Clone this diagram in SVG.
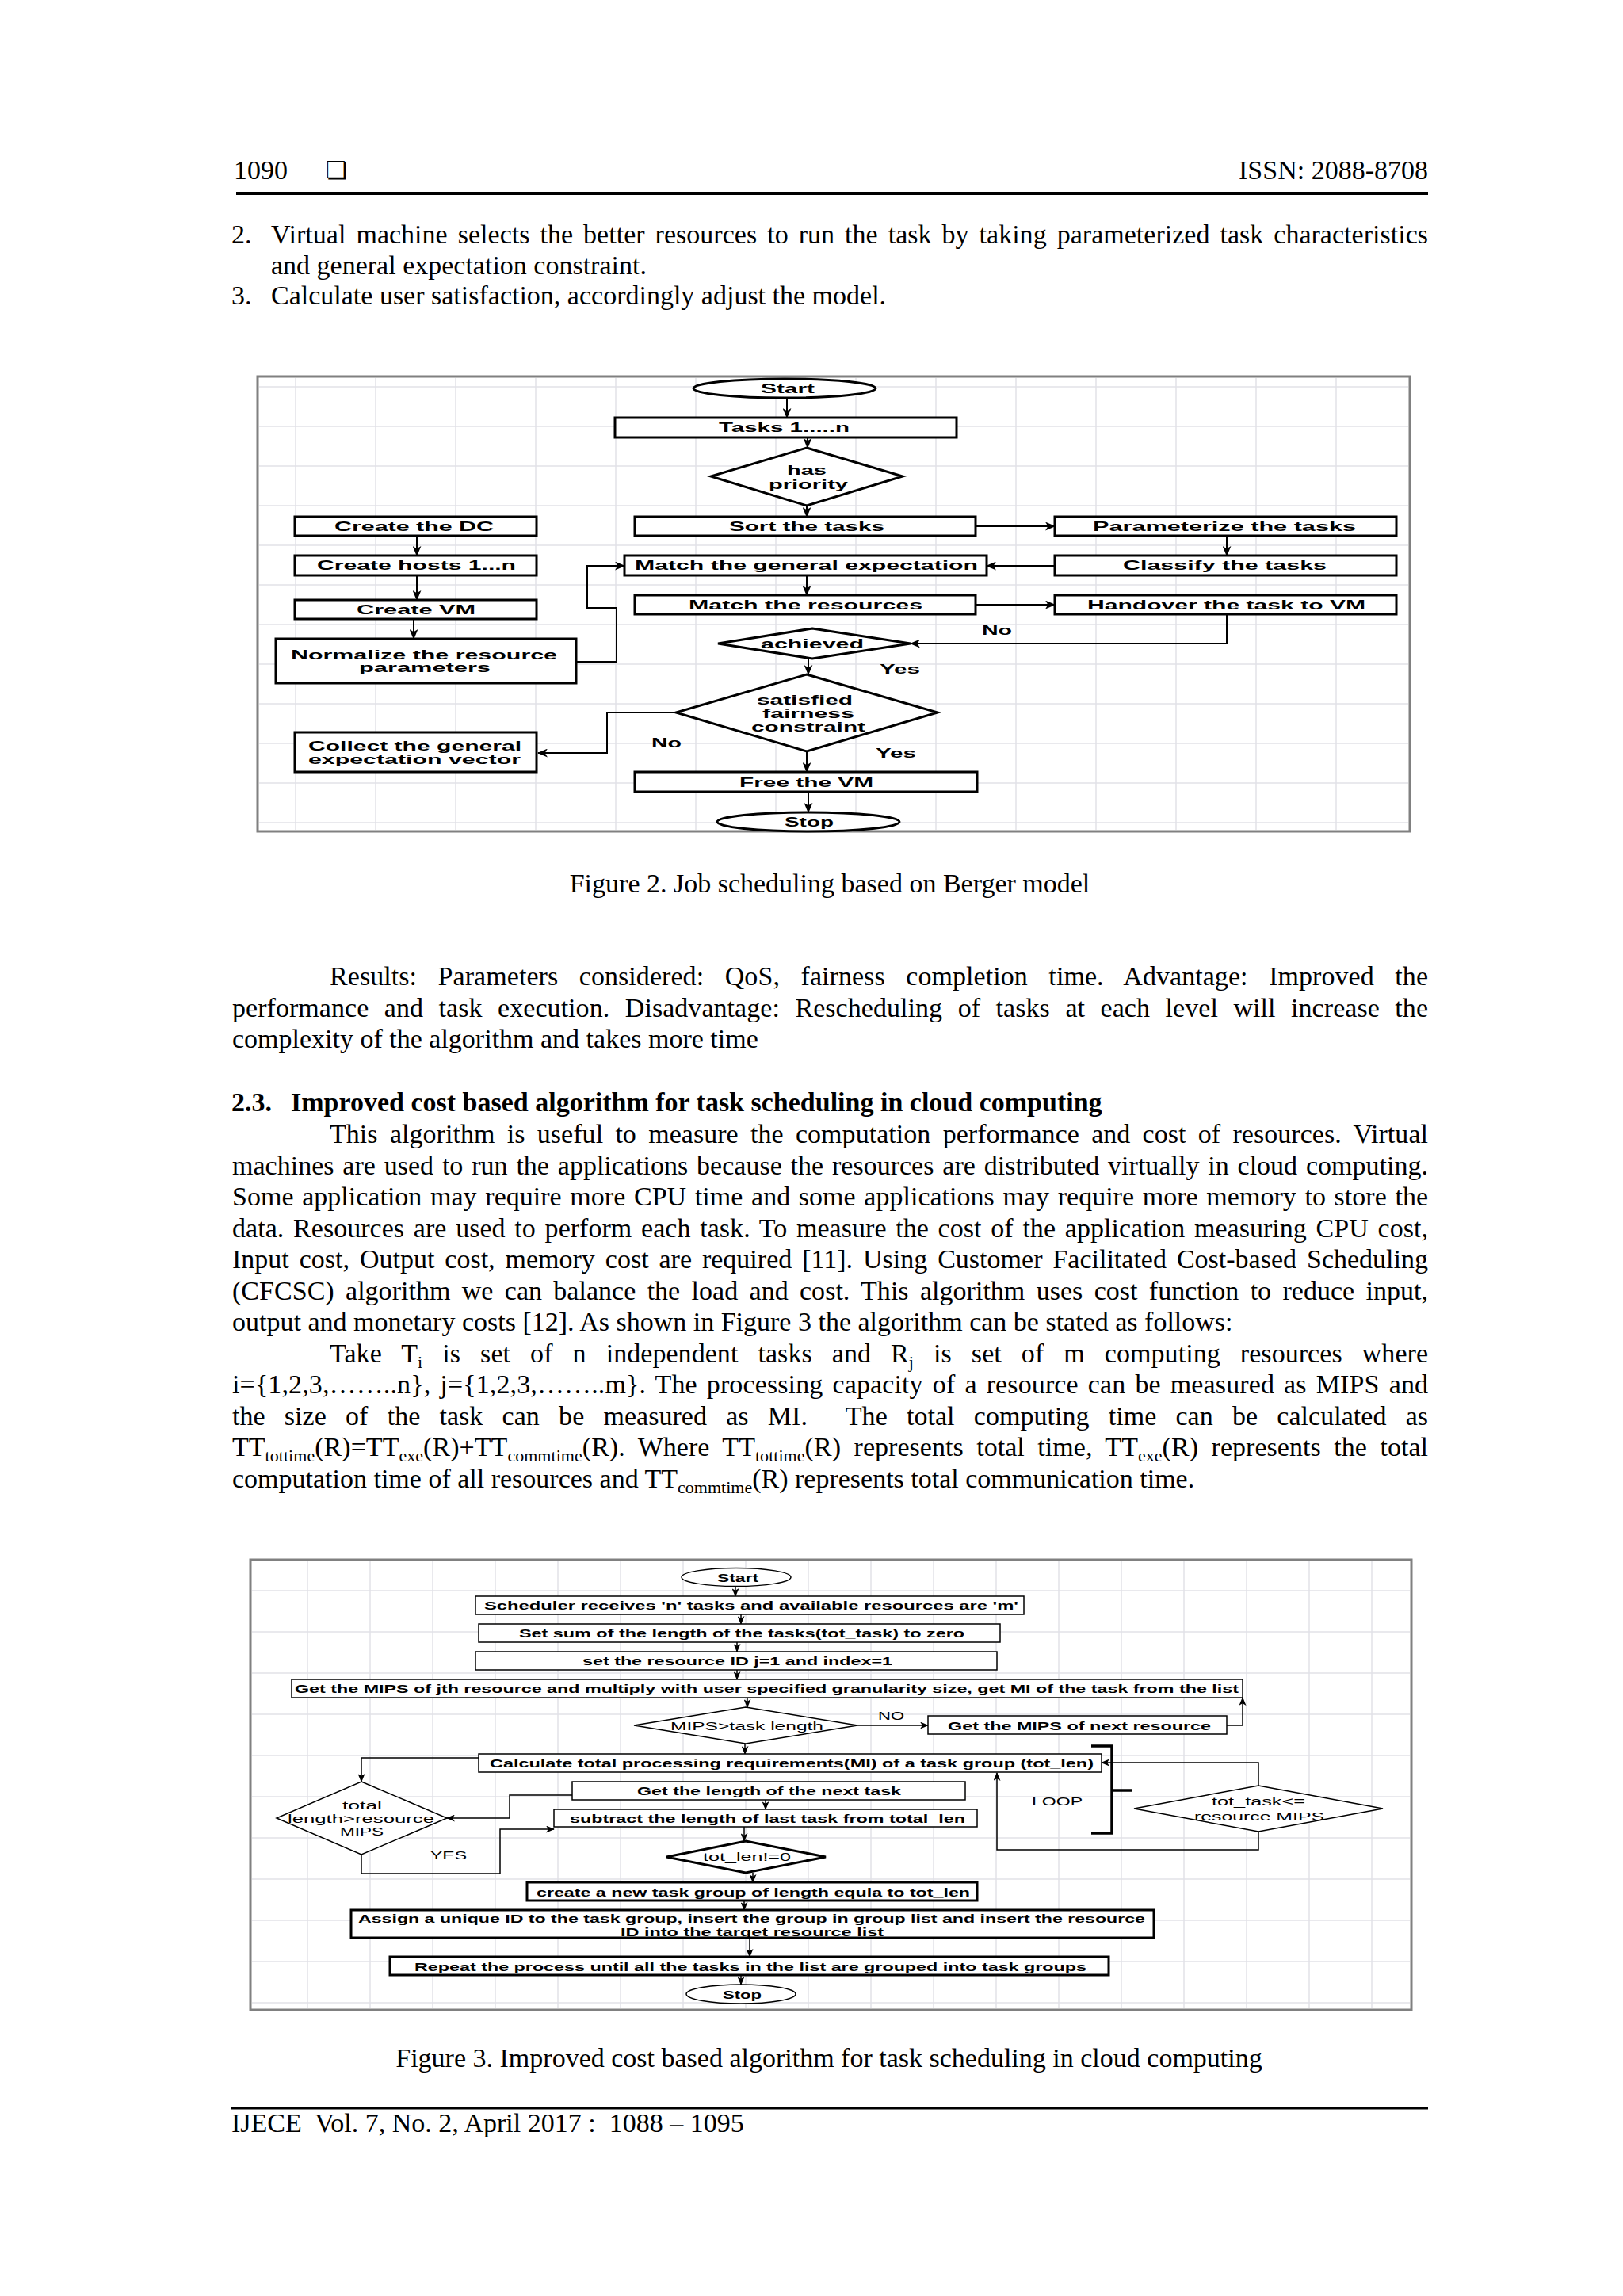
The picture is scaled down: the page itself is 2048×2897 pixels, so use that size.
<svg xmlns="http://www.w3.org/2000/svg" width="2048" height="2897" viewBox="0 0 2048 2897">
<defs>
<style>
.body{font-family:"Liberation Serif","Times New Roman",serif;font-size:34px;fill:#000}
.bold{font-weight:bold}
.f2{font-family:"Liberation Sans",Arial,sans-serif;font-weight:bold;font-size:16px;fill:#000}
.f3{font-family:"Liberation Sans",Arial,sans-serif;font-weight:bold;font-size:15px;fill:#000}
.f3r{font-family:"Liberation Sans",Arial,sans-serif;font-size:15px;fill:#000}
.b2{fill:#fff;stroke:#000;stroke-width:3}
.b3{fill:#fff;stroke:#000;stroke-width:1.5}
.b3t{fill:#fff;stroke:#000;stroke-width:3}
.c2{fill:none;stroke:#000;stroke-width:2;marker-end:url(#a2)}
.c3{fill:none;stroke:#000;stroke-width:1.5;marker-end:url(#a3)}
.frame{fill:#fff;stroke:#808080;stroke-width:3}
.grid{fill:none;stroke:#e2e2e8;stroke-width:1.5}
.sub{font-size:22px}
</style>
<marker id="a2" viewBox="0 0 12 10" refX="11" refY="5" markerWidth="13" markerHeight="11" markerUnits="userSpaceOnUse" orient="auto"><path d="M0,0 L12,5 L0,10 L3,5 Z" fill="#000"/></marker>
<marker id="a3" viewBox="0 0 12 10" refX="11" refY="5" markerWidth="11" markerHeight="9" markerUnits="userSpaceOnUse" orient="auto"><path d="M0,0 L12,5 L0,10 L3,5 Z" fill="#000"/></marker>
</defs>
<rect width="2048" height="2897" fill="#fff"/>

<g id="page-header">
<text x="295" y="226" class="body">1090</text>
<text x="411" y="225" font-family="DejaVu Sans" font-weight="bold" font-size="30">❏</text>
<text x="1802" y="226" class="body" text-anchor="end">ISSN: 2088-8708</text>
<line x1="298" y1="244" x2="1802" y2="244" stroke="#000" stroke-width="4"/>
</g>

<g id="list-text">
<text x="292" y="307" class="body">2.</text>
<text x="342" y="307" class="body" word-spacing="4.5" textLength="1460" lengthAdjust="spacing">Virtual machine selects the better resources to run the task by taking parameterized task characteristics</text>
<text x="342" y="346" class="body">and general expectation constraint.</text>
<text x="292" y="384" class="body">3.</text>
<text x="342" y="384" class="body">Calculate user satisfaction, accordingly adjust the model.</text>
</g>

<!-- Figure 2 -->
<g id="figure2">
<rect class="frame" x="325" y="475" width="1454" height="574"/>
<path class="grid" d="M373,477V1047M474,477V1047M575,477V1047M676,477V1047M777,477V1047M878,477V1047M979,477V1047M1080,477V1047M1181,477V1047M1282,477V1047M1383,477V1047M1484,477V1047M1585,477V1047M1686,477V1047M327,488H1777M327,538H1777M327,588H1777M327,638H1777M327,688H1777M327,738H1777M327,788H1777M327,838H1777M327,888H1777M327,938H1777M327,988H1777M327,1038H1777"/>

<g id="f2-connectors">
<path class="c2" d="M993,502V527"/>
<path class="c2" d="M1019,552V565"/>
<path class="c2" d="M1018,638V652"/>
<path class="c2" d="M1231,664H1331"/>
<path class="c2" d="M1548,676V701"/>
<path class="c2" d="M1331,714H1245"/>
<path class="c2" d="M1018,726V751"/>
<path class="c2" d="M1231,763H1331"/>
<path class="c2" d="M1548,775V812H1149"/>
<path class="c2" d="M1020,831V851"/>
<path class="c2" d="M1018,948V974"/>
<path class="c2" d="M1020,999V1025"/>
<path class="c2" d="M853,899H766V950H679"/>
<path class="c2" d="M526,676V701"/>
<path class="c2" d="M526,726V757"/>
<path class="c2" d="M522,781V806"/>
<path class="c2" d="M727,835H778V767H741V714H788"/>
</g>

<g id="f2-start"><ellipse class="b2" cx="990" cy="490" rx="115" ry="12"/><text class="f2" x="960" y="496" textLength="68" lengthAdjust="spacingAndGlyphs">Start</text></g>
<g id="f2-tasks"><rect class="b2" x="776" y="527" width="431" height="25"/><text class="f2" x="907" y="545" textLength="165" lengthAdjust="spacingAndGlyphs">Tasks 1.....n</text></g>
<g id="f2-priority"><polygon class="b2" points="1018,565 1139,601 1018,638 897,601"/><text class="f2" x="993" y="599" textLength="50" lengthAdjust="spacingAndGlyphs">has</text><text class="f2" x="970" y="617" textLength="100" lengthAdjust="spacingAndGlyphs">priority</text></g>
<g id="f2-dc"><rect class="b2" x="372" y="652" width="305" height="24"/><text class="f2" x="422" y="670" textLength="201" lengthAdjust="spacingAndGlyphs">Create the DC</text></g>
<g id="f2-hosts"><rect class="b2" x="372" y="701" width="305" height="25"/><text class="f2" x="400" y="719" textLength="251" lengthAdjust="spacingAndGlyphs">Create hosts 1...n</text></g>
<g id="f2-vm"><rect class="b2" x="372" y="757" width="305" height="24"/><text class="f2" x="450" y="775" textLength="150" lengthAdjust="spacingAndGlyphs">Create VM</text></g>
<g id="f2-normalize"><rect class="b2" x="348" y="806" width="379" height="56"/><text class="f2" x="367" y="832" textLength="336" lengthAdjust="spacingAndGlyphs">Normalize the resource</text><text class="f2" x="453" y="848" textLength="166" lengthAdjust="spacingAndGlyphs">parameters</text></g>
<g id="f2-sort"><rect class="b2" x="801" y="652" width="430" height="24"/><text class="f2" x="920" y="670" textLength="196" lengthAdjust="spacingAndGlyphs">Sort the tasks</text></g>
<g id="f2-param"><rect class="b2" x="1331" y="652" width="431" height="24"/><text class="f2" x="1379" y="670" textLength="332" lengthAdjust="spacingAndGlyphs">Parameterize the tasks</text></g>
<g id="f2-classify"><rect class="b2" x="1331" y="701" width="431" height="25"/><text class="f2" x="1417" y="719" textLength="257" lengthAdjust="spacingAndGlyphs">Classify the tasks</text></g>
<g id="f2-matchgen"><rect class="b2" x="788" y="701" width="457" height="25"/><text class="f2" x="801" y="719" textLength="433" lengthAdjust="spacingAndGlyphs">Match the general expectation</text></g>
<g id="f2-matchres"><rect class="b2" x="801" y="751" width="430" height="24"/><text class="f2" x="869" y="769" textLength="295" lengthAdjust="spacingAndGlyphs">Match the resources</text></g>
<g id="f2-handover"><rect class="b2" x="1331" y="751" width="431" height="24"/><text class="f2" x="1372" y="769" textLength="351" lengthAdjust="spacingAndGlyphs">Handover the task to VM</text></g>
<g id="f2-achieved"><polygon class="b2" points="1025,793 1149,812 1025,831 906,812"/><text class="f2" x="960" y="818" textLength="130" lengthAdjust="spacingAndGlyphs">achieved</text></g>
<g id="f2-satisfied"><polygon class="b2" points="1018,851 1183,899 1018,948 853,899"/><text class="f2" x="955" y="889" textLength="121" lengthAdjust="spacingAndGlyphs">satisfied</text><text class="f2" x="962" y="906" textLength="116" lengthAdjust="spacingAndGlyphs">fairness</text><text class="f2" x="948" y="923" textLength="144" lengthAdjust="spacingAndGlyphs">constraint</text></g>
<g id="f2-collect"><rect class="b2" x="372" y="924" width="305" height="50"/><text class="f2" x="389" y="947" textLength="269" lengthAdjust="spacingAndGlyphs">Collect the general</text><text class="f2" x="389" y="964" textLength="268" lengthAdjust="spacingAndGlyphs">expectation vector</text></g>
<g id="f2-free"><rect class="b2" x="801" y="974" width="432" height="25"/><text class="f2" x="933" y="993" textLength="169" lengthAdjust="spacingAndGlyphs">Free the VM</text></g>
<g id="f2-stop"><ellipse class="b2" cx="1020" cy="1037" rx="115" ry="12"/><text class="f2" x="990" y="1043" textLength="62" lengthAdjust="spacingAndGlyphs">Stop</text></g>
<g id="f2-labels">
<text class="f2" x="1239" y="801" textLength="38" lengthAdjust="spacingAndGlyphs">No</text>
<text class="f2" x="1110" y="850" textLength="51" lengthAdjust="spacingAndGlyphs">Yes</text>
<text class="f2" x="822" y="943" textLength="38" lengthAdjust="spacingAndGlyphs">No</text>
<text class="f2" x="1105" y="956" textLength="51" lengthAdjust="spacingAndGlyphs">Yes</text>
</g>
</g>

<text x="1047" y="1126" class="body" text-anchor="middle">Figure 2. Job scheduling based on Berger model</text>

<g id="body-text">
<text x="416" y="1243" class="body" word-spacing="18" textLength="1386" lengthAdjust="spacing">Results: Parameters considered: QoS, fairness completion time. Advantage: Improved the</text>
<text x="293" y="1283" class="body" word-spacing="11" textLength="1509" lengthAdjust="spacing">performance and task execution. Disadvantage: Rescheduling of tasks at each level will increase the</text>
<text x="293" y="1322" class="body">complexity of the algorithm and takes more time</text>

<text x="292" y="1402" class="body bold">2.3.</text>
<text x="367" y="1402" class="body bold">Improved cost based algorithm for task scheduling in cloud computing</text>

<text x="416" y="1442" class="body" word-spacing="6.7" textLength="1386" lengthAdjust="spacing">This algorithm is useful to measure the computation performance and cost of resources. Virtual</text>
<text x="293" y="1482" class="body" word-spacing="2.3" textLength="1509" lengthAdjust="spacing">machines are used to run the applications because the resources are distributed virtually in cloud computing.</text>
<text x="293" y="1521" class="body" word-spacing="2.2" textLength="1509" lengthAdjust="spacing">Some application may require more CPU time and some applications may require more memory to store the</text>
<text x="293" y="1561" class="body" word-spacing="3.2" textLength="1509" lengthAdjust="spacing">data. Resources are used to perform each task. To measure the cost of the application measuring CPU cost,</text>
<text x="293" y="1600" class="body" word-spacing="4.4" textLength="1509" lengthAdjust="spacing">Input cost, Output cost, memory cost are required [11]. Using Customer Facilitated Cost-based Scheduling</text>
<text x="293" y="1640" class="body" word-spacing="5.8" textLength="1509" lengthAdjust="spacing">(CFCSC) algorithm we can balance the load and cost. This algorithm uses cost function to reduce input,</text>
<text x="293" y="1679" class="body">output and monetary costs [12]. As shown in Figure 3 the algorithm can be stated as follows:</text>

<text x="416" y="1719" class="body" word-spacing="16.5" textLength="1386" lengthAdjust="spacing">Take T<tspan class="sub" dy="7">i</tspan><tspan dy="-7"> is set of n independent tasks and R</tspan><tspan class="sub" dy="7">j</tspan><tspan dy="-7"> is set of m computing resources where</tspan></text>
<text x="293" y="1758" class="body" word-spacing="3.4" textLength="1509" lengthAdjust="spacing">i={1,2,3,……..n}, j={1,2,3,……..m}. The processing capacity of a resource can be measured as MIPS and</text>
<text x="293" y="1798" class="body" word-spacing="15.7" textLength="1509" lengthAdjust="spacing" xml:space="preserve">the size of the task can be measured as MI.  The total computing time can be calculated as</text>
<text x="293" y="1837" class="body" word-spacing="8" textLength="1509" lengthAdjust="spacing">TT<tspan class="sub" dy="7">tottime</tspan><tspan dy="-7">(R)=TT</tspan><tspan class="sub" dy="7">exe</tspan><tspan dy="-7">(R)+TT</tspan><tspan class="sub" dy="7">commtime</tspan><tspan dy="-7">(R). Where TT</tspan><tspan class="sub" dy="7">tottime</tspan><tspan dy="-7">(R) represents total time, TT</tspan><tspan class="sub" dy="7">exe</tspan><tspan dy="-7">(R) represents the total</tspan></text>
<text x="293" y="1877" class="body">computation time of all resources and TT<tspan class="sub" dy="7">commtime</tspan><tspan dy="-7">(R) represents total communication time.</tspan></text>
</g>

<!-- Figure 3 -->
<g id="figure3">
<rect class="frame" x="316" y="1968" width="1465" height="568"/>
<path class="grid" d="M388,1970V2534M467,1970V2534M546,1970V2534M625,1970V2534M704,1970V2534M783,1970V2534M862,1970V2534M941,1970V2534M1020,1970V2534M1099,1970V2534M1178,1970V2534M1257,1970V2534M1336,1970V2534M1415,1970V2534M1494,1970V2534M1573,1970V2534M1652,1970V2534M1731,1970V2534M318,2007H1779M318,2059H1779M318,2111H1779M318,2163H1779M318,2215H1779M318,2267H1779M318,2319H1779M318,2371H1779M318,2423H1779M318,2475H1779M318,2527H1779"/>

<g id="f3-connectors">
<path class="c3" d="M928,2002V2014"/>
<path class="c3" d="M935,2037V2049"/>
<path class="c3" d="M930,2072V2084"/>
<path class="c3" d="M930,2107V2119"/>
<path class="c3" d="M943,2142V2154"/>
<path class="c3" d="M1082,2177H1171"/>
<path class="c3" d="M1548,2177H1568V2142"/>
<path class="c3" d="M940,2200V2213"/>
<path class="c3" d="M604,2218H456V2248"/>
<path class="c3" d="M722,2265H643V2294H564"/>
<path class="c3" d="M966,2271V2283"/>
<path class="c3" d="M456,2340V2364H631V2308H699"/>
<path class="c3" d="M939,2305V2323"/>
<path class="c3" d="M950,2363V2375"/>
<path class="c3" d="M939,2398V2410"/>
<path class="c3" d="M946,2445V2469"/>
<path class="c3" d="M935,2492V2504"/>
<path class="c3" d="M1588,2253V2224H1390"/>
<path class="c3" d="M1588,2311V2334H1258V2237"/>
<path fill="none" stroke="#000" stroke-width="3.5" d="M1377,2203H1403V2313H1377M1403,2259H1428"/>
</g>

<g id="f3-start"><ellipse class="b3" cx="929" cy="1990" rx="69" ry="11.5"/><text class="f3" x="905" y="1996" textLength="52" lengthAdjust="spacingAndGlyphs">Start</text></g>
<g id="f3-scheduler"><rect class="b3" x="600" y="2014" width="692" height="23"/><text class="f3" x="611" y="2031" textLength="674" lengthAdjust="spacingAndGlyphs">Scheduler receives 'n' tasks and available resources are 'm'</text></g>
<g id="f3-setsum"><rect class="b3" x="604" y="2049" width="658" height="23"/><text class="f3" x="655" y="2066" textLength="562" lengthAdjust="spacingAndGlyphs">Set sum of the length of the tasks(tot_task) to zero</text></g>
<g id="f3-setres"><rect class="b3" x="600" y="2084" width="658" height="23"/><text class="f3" x="735" y="2101" textLength="391" lengthAdjust="spacingAndGlyphs">set the resource ID j=1 and index=1</text></g>
<g id="f3-getmips"><rect class="b3" x="368" y="2119" width="1200" height="23"/><text class="f3" x="372" y="2136" textLength="1191" lengthAdjust="spacingAndGlyphs">Get the MIPS of jth resource and multiply with user specified granularity size, get MI of the task from the list</text></g>
<g id="f3-mipsdec"><polygon class="b3" points="941,2154 1082,2177 941,2200 800,2177"/><text class="f3r" x="846" y="2183" textLength="193" lengthAdjust="spacingAndGlyphs">MIPS&gt;task length</text></g>
<g id="f3-nextres"><rect class="b3" x="1171" y="2165" width="377" height="23"/><text class="f3" x="1196" y="2183" textLength="332" lengthAdjust="spacingAndGlyphs">Get the MIPS of next resource</text></g>
<g id="f3-calc"><rect class="b3" x="604" y="2213" width="786" height="23"/><text class="f3" x="618" y="2230" textLength="762" lengthAdjust="spacingAndGlyphs">Calculate total processing requirements(MI) of a task group (tot_len)</text></g>
<g id="f3-getlen"><rect class="b3" x="722" y="2248" width="496" height="23"/><text class="f3" x="804" y="2265" textLength="333" lengthAdjust="spacingAndGlyphs">Get the length of the next task</text></g>
<g id="f3-totaldec"><polygon class="b3" points="456,2248 564,2294 456,2340 349,2294"/><text class="f3r" x="432" y="2283" textLength="50" lengthAdjust="spacingAndGlyphs">total</text><text class="f3r" x="363" y="2300" textLength="185" lengthAdjust="spacingAndGlyphs">length&gt;resource</text><text class="f3r" x="429" y="2316" textLength="55" lengthAdjust="spacingAndGlyphs">MIPS</text></g>
<g id="f3-subtract"><rect class="b3" x="699" y="2283" width="534" height="22"/><text class="f3" x="719" y="2300" textLength="499" lengthAdjust="spacingAndGlyphs">subtract the length of last task from total_len</text></g>
<g id="f3-totlen"><polygon class="b3t" points="941,2323 1042,2343 941,2363 841,2343"/><text class="f3r" x="887" y="2348" textLength="111" lengthAdjust="spacingAndGlyphs">tot_len!=0</text></g>
<g id="f3-create"><rect class="b3t" x="665" y="2375" width="568" height="23"/><text class="f3" x="677" y="2393" textLength="547" lengthAdjust="spacingAndGlyphs">create a new task group of length equla to tot_len</text></g>
<g id="f3-assign"><rect class="b3t" x="443" y="2410" width="1013" height="35"/><text class="f3" x="452" y="2426" textLength="993" lengthAdjust="spacingAndGlyphs">Assign a unique ID to the task group, insert the group in group list and insert the resource</text><text class="f3" x="783" y="2443" textLength="332" lengthAdjust="spacingAndGlyphs">ID into the target resource list</text></g>
<g id="f3-repeat"><rect class="b3t" x="492" y="2469" width="907" height="23"/><text class="f3" x="523" y="2487" textLength="848" lengthAdjust="spacingAndGlyphs">Repeat the process until all the tasks in the list are grouped into task groups</text></g>
<g id="f3-stop"><ellipse class="b3" cx="935" cy="2516" rx="69" ry="12"/><text class="f3" x="912" y="2522" textLength="49" lengthAdjust="spacingAndGlyphs">Stop</text></g>
<g id="f3-totask"><polygon class="b3" points="1588,2253 1745,2282 1588,2311 1431,2282"/><text class="f3r" x="1529" y="2278" textLength="118" lengthAdjust="spacingAndGlyphs">tot_task&lt;=</text><text class="f3r" x="1507" y="2297" textLength="164" lengthAdjust="spacingAndGlyphs">resource MIPS</text></g>
<g id="f3-labels">
<text class="f3r" x="1108" y="2170" textLength="33" lengthAdjust="spacingAndGlyphs">NO</text>
<text class="f3r" x="1302" y="2278" textLength="64" lengthAdjust="spacingAndGlyphs">LOOP</text>
<text class="f3r" x="543" y="2346" textLength="46" lengthAdjust="spacingAndGlyphs">YES</text>
</g>
</g>

<text x="1046" y="2608" class="body" text-anchor="middle">Figure 3. Improved cost based algorithm for task scheduling in cloud computing</text>

<g id="page-footer">
<line x1="292" y1="2660" x2="1802" y2="2660" stroke="#000" stroke-width="3"/>
<text x="292" y="2690" class="body" xml:space="preserve">IJECE  Vol. 7, No. 2, April 2017 :  1088 – 1095</text>
</g>
</svg>
